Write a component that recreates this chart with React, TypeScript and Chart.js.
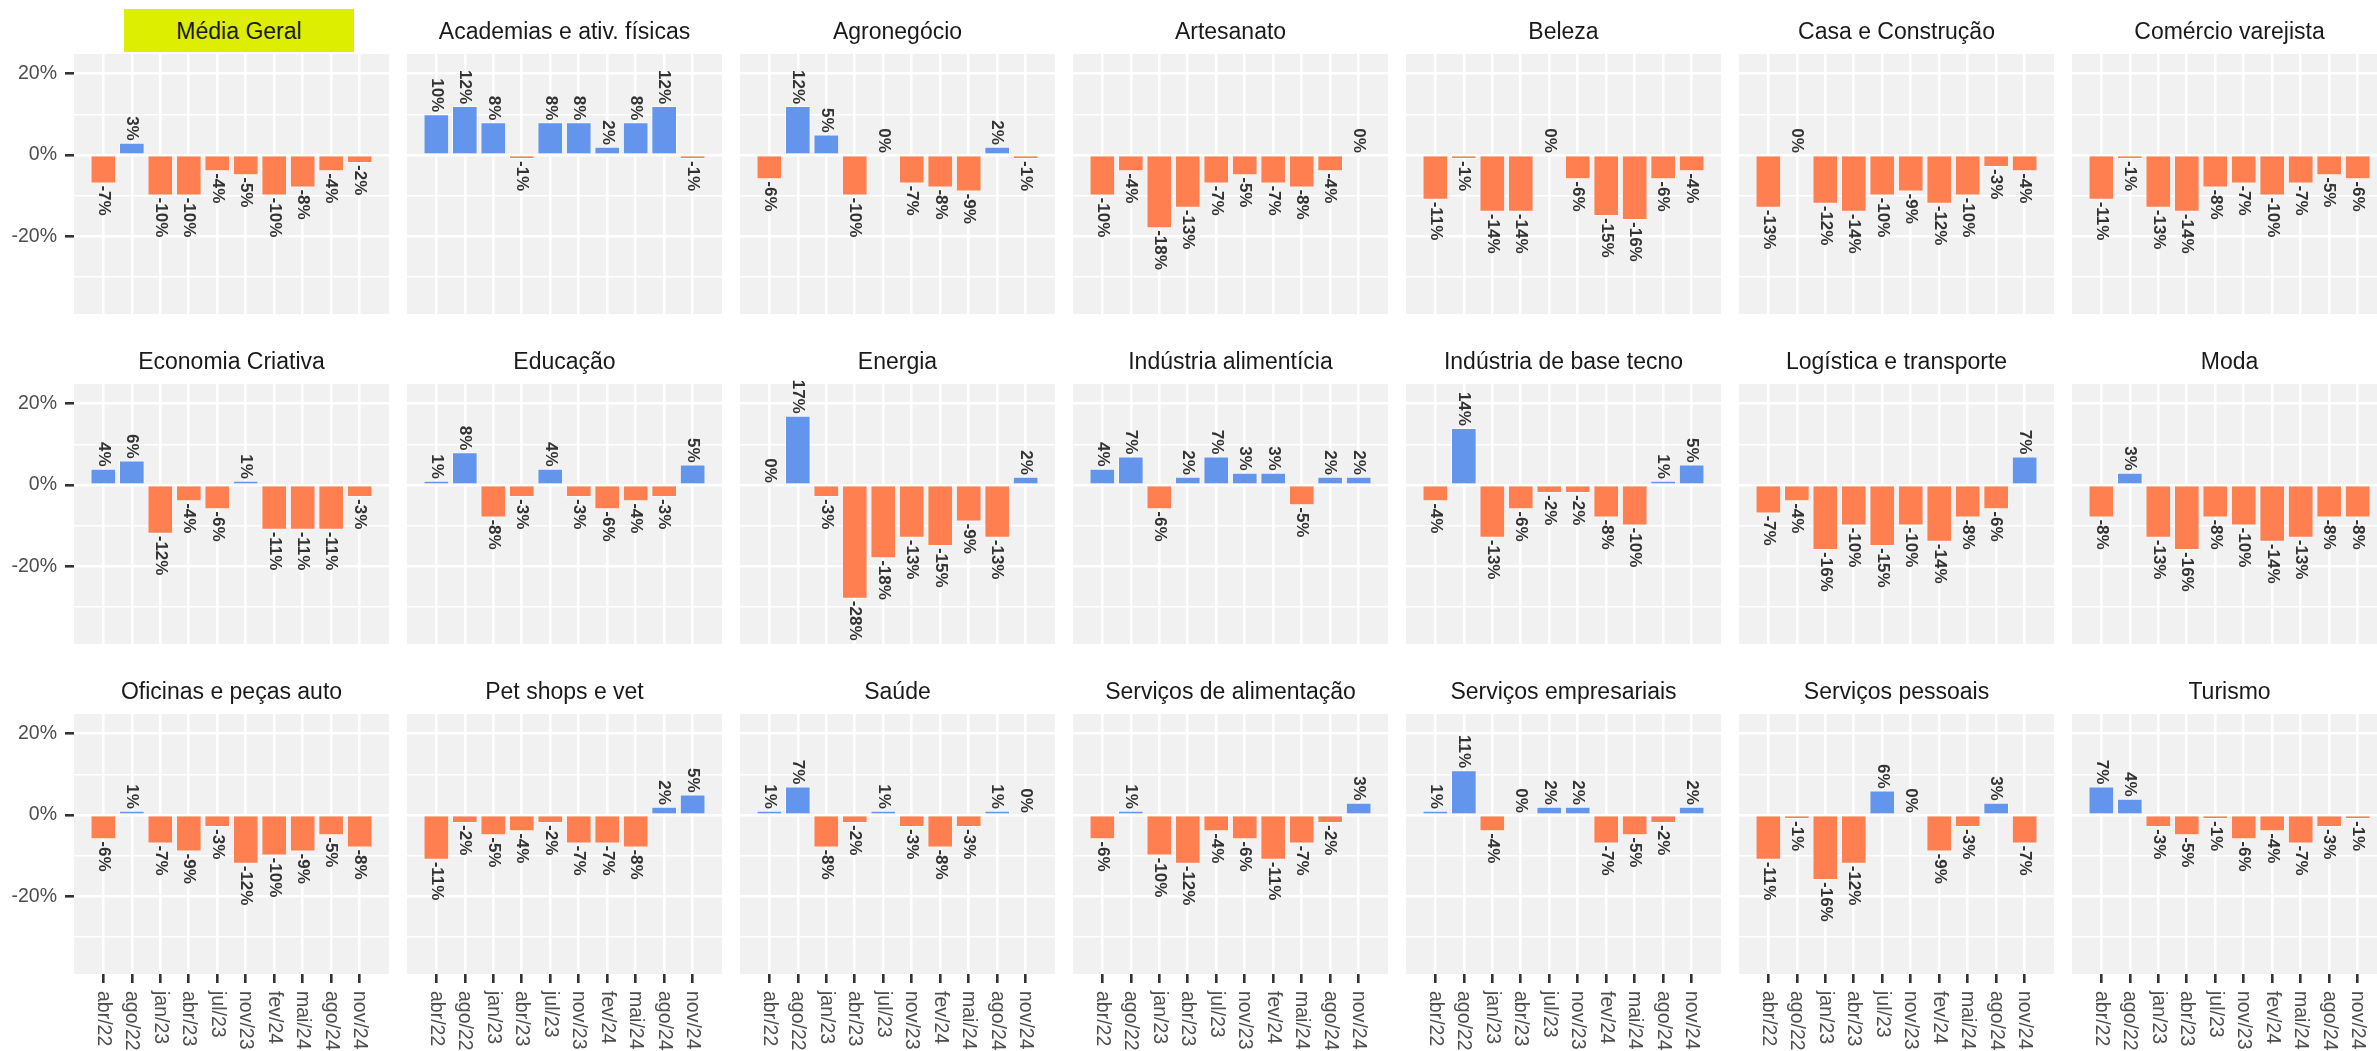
import React, { useEffect, useRef } from 'react';
import { Chart, registerables } from 'chart.js';

Chart.register(...registerables);

// ---------- data ----------
const periods = ['abr/22', 'ago/22', 'jan/23', 'abr/23', 'jul/23', 'nov/23', 'fev/24', 'mai/24', 'ago/24', 'nov/24'];

const mediaGeral = [-7, 3, -10, -10, -4, -5, -10, -8, -4, -2];
const academias = [10, 12, 8, -1, 8, 8, 2, 8, 12, -1];
const agronegocio = [-6, 12, 5, -10, 0, -7, -8, -9, 2, -1];
const artesanato = [-10, -4, -18, -13, -7, -5, -7, -8, -4, 0];
const beleza = [-11, -1, -14, -14, 0, -6, -15, -16, -6, -4];
const casaConstrucao = [-13, 0, -12, -14, -10, -9, -12, -10, -3, -4];
const comercioVarejista = [-11, -1, -13, -14, -8, -7, -10, -7, -5, -6];
const economiaCriativa = [4, 6, -12, -4, -6, 1, -11, -11, -11, -3];
const educacao = [1, 8, -8, -3, 4, -3, -6, -4, -3, 5];
const energia = [0, 17, -3, -28, -18, -13, -15, -9, -13, 2];
const industriaAlimenticia = [4, 7, -6, 2, 7, 3, 3, -5, 2, 2];
const industriaBaseTecno = [-4, 14, -13, -6, -2, -2, -8, -10, 1, 5];
const logisticaTransporte = [-7, -4, -16, -10, -15, -10, -14, -8, -6, 7];
const moda = [-8, 3, -13, -16, -8, -10, -14, -13, -8, -8];
const oficinasAuto = [-6, 1, -7, -9, -3, -12, -10, -9, -5, -8];
const petShops = [-11, -2, -5, -4, -2, -7, -7, -8, 2, 5];
const saude = [1, 7, -8, -2, 1, -3, -8, -3, 1, 0];
const servicosAlimentacao = [-6, 1, -10, -12, -4, -6, -11, -7, -2, 3];
const servicosEmpresariais = [1, 11, -4, 0, 2, 2, -7, -5, -2, 2];
const servicosPessoais = [-11, -1, -16, -12, 6, 0, -9, -3, 3, -7];
const turismo = [7, 4, -3, -5, -1, -6, -4, -7, -3, -1];

const sectorNames = [
  'Média Geral', 'Academias e ativ. físicas', 'Agronegócio', 'Artesanato', 'Beleza', 'Casa e Construção', 'Comércio varejista',
  'Economia Criativa', 'Educação', 'Energia', 'Indústria alimentícia', 'Indústria de base tecno', 'Logística e transporte', 'Moda',
  'Oficinas e peças auto', 'Pet shops e vet', 'Saúde', 'Serviços de alimentação', 'Serviços empresariais', 'Serviços pessoais', 'Turismo',
];
const sectorValues = [
  mediaGeral, academias, agronegocio, artesanato, beleza, casaConstrucao, comercioVarejista,
  economiaCriativa, educacao, energia, industriaAlimenticia, industriaBaseTecno, logisticaTransporte, moda,
  oficinasAuto, petShops, saude, servicosAlimentacao, servicosEmpresariais, servicosPessoais, turismo,
];

const yGridValues = [-30, -20, -10, 0, 10, 20];
const yLabelValues = [-20, 0, 20];

// ---------- layout / style ----------
const W = 2377;
const H = 1051;
const PLOT_LEFT0 = 74;
const COL_STRIDE = 333;
const PLOT_W = 315;
const PLOT_TOP0 = 54;
const ROW_STRIDE = 330;
const PLOT_H = 260;
const Y_AXIS_W = 74;
const X_AXIS_H = 77;
const TOP_PAD = 22;
const N_COLS = 7;

const FONT = '"Liberation Sans", Arial, Helvetica, sans-serif';
const BLUE = '#6495ED';
const CORAL = '#FF7F50';
const PANEL_BG = '#F1F1F1';
const HIGHLIGHT = '#DDEE00';

function Panel({ values, row, col }: { values: number[]; row: number; col: number }) {
  const ref = useRef<HTMLCanvasElement | null>(null);
  const firstCol = col === 0;
  const lastRow = row === 2;
  const left = firstCol ? 0 : PLOT_LEFT0 + col * COL_STRIDE;
  const top = PLOT_TOP0 + row * ROW_STRIDE - TOP_PAD;
  const width = (firstCol ? Y_AXIS_W : 0) + PLOT_W;
  const height = TOP_PAD + PLOT_H + (lastRow ? X_AXIS_H : 0);

  useEffect(() => {
    if (!ref.current) return;

    const bgPlugin = {
      id: 'panelBg',
      beforeDraw(chart: any) {
        const { ctx, chartArea } = chart;
        ctx.save();
        ctx.fillStyle = PANEL_BG;
        ctx.fillRect(chartArea.left, chartArea.top, chartArea.right - chartArea.left, chartArea.bottom - chartArea.top);
        ctx.restore();
      },
    };

    const valueLabels = {
      id: 'valueLabels',
      afterDatasetsDraw(chart: any) {
        const { ctx } = chart;
        const meta = chart.getDatasetMeta(0);
        ctx.save();
        ctx.font = `bold 17px ${FONT}`;
        ctx.fillStyle = '#333333';
        meta.data.forEach((bar: any, i: number) => {
          const v = values[i];
          ctx.save();
          ctx.translate(bar.x, v >= 0 ? bar.y - 2 : bar.y + 2);
          ctx.rotate(Math.PI / 2);
          ctx.textAlign = v >= 0 ? 'right' : 'left';
          ctx.textBaseline = 'middle';
          ctx.fillText(`${Math.round(v)}%`, 0, 0);
          ctx.restore();
        });
        ctx.restore();
      },
    };

    const xLabels = {
      id: 'xLabels',
      afterDraw(chart: any) {
        if (!lastRow) return;
        const { ctx } = chart;
        const xs = chart.scales.x;
        const y0 = chart.chartArea.bottom + 17;
        ctx.save();
        ctx.font = `19.5px ${FONT}`;
        ctx.fillStyle = '#4D4D4D';
        periods.forEach((p, i) => {
          const x = xs.getPixelForValue(i);
          ctx.save();
          ctx.translate(x, y0);
          ctx.rotate(Math.PI / 2);
          ctx.textAlign = 'left';
          ctx.textBaseline = 'middle';
          ctx.fillText(p, 0, 0);
          ctx.restore();
        });
        ctx.restore();
      },
    };

    const chart = new Chart(ref.current, {
      type: 'bar',
      data: {
        datasets: [
          {
            data: values.map((v, i) => ({ x: i, y: v })),
            backgroundColor: values.map((v) => (v >= 0 ? BLUE : CORAL)),
            borderColor: 'rgba(255,255,255,0.55)',
            borderWidth: values.map((v) => (v === 0 ? 0 : 1)),
            barPercentage: 0.9,
            categoryPercentage: 1,
          } as any,
        ],
      },
      options: {
        responsive: false,
        animation: false,
        events: [],
        layout: { padding: { top: TOP_PAD, left: 0, right: 0, bottom: 0 } },
        plugins: {
          legend: { display: false },
          tooltip: { enabled: false },
          title: { display: false },
        },
        scales: {
          x: {
            type: 'linear',
            min: -1.03,
            max: 10.03,
            offset: false,
            border: { display: false },
            grid: {
              offset: false,
              color: '#FFFFFF',
              lineWidth: 2.6,
              drawTicks: lastRow,
              tickColor: '#333333',
              tickWidth: 2.6,
              tickLength: 9,
            },
            ticks: { display: false },
            afterBuildTicks: (s: any) => {
              s.ticks = periods.map((_, i) => ({ value: i }));
            },
            afterFit: (s: any) => {
              s.height = lastRow ? X_AXIS_H : 0;
              s.paddingLeft = 0;
              s.paddingRight = 0;
            },
          } as any,
          y: {
            min: -39.1,
            max: 24.8,
            border: { display: false },
            grid: {
              color: '#FFFFFF',
              lineWidth: (ctx: any) => (ctx.tick && yLabelValues.includes(ctx.tick.value) ? 2.6 : 1.4),
              drawTicks: firstCol,
              tickColor: (ctx: any) => (ctx.tick && yLabelValues.includes(ctx.tick.value) ? '#333333' : 'rgba(0,0,0,0)'),
              tickWidth: 2.6,
              tickLength: 9,
            },
            ticks: {
              display: firstCol,
              padding: 8,
              color: '#4D4D4D',
              font: { family: FONT, size: 19.5 },
              callback: (v: any) => (yLabelValues.includes(Number(v)) ? `${v}%` : ''),
            },
            afterBuildTicks: (s: any) => {
              s.ticks = yGridValues.map((v) => ({ value: v }));
            },
            afterFit: (s: any) => {
              s.width = firstCol ? Y_AXIS_W : 0;
              s.paddingTop = 0;
              s.paddingBottom = 0;
            },
          } as any,
        },
      } as any,
      plugins: [bgPlugin, valueLabels, xLabels],
    });

    return () => chart.destroy();
  }, []);

  return (
    <canvas
      ref={ref}
      width={width}
      height={height}
      style={{ position: 'absolute', left, top, width, height }}
    />
  );
}

export default function App() {
  return (
    <div
      style={{
        position: 'absolute',
        left: 0,
        top: 0,
        width: W,
        height: H,
        overflow: 'hidden',
        background: '#FFFFFF',
      }}
    >
      {sectorValues.map((vals, idx) => {
        const row = Math.floor(idx / N_COLS);
        const col = idx % N_COLS;
        return <Panel key={`p${idx}`} values={vals} row={row} col={col} />;
      })}
      {sectorNames.map((name, idx) => {
        const row = Math.floor(idx / N_COLS);
        const col = idx % N_COLS;
        const plotTop = PLOT_TOP0 + row * ROW_STRIDE;
        const center = PLOT_LEFT0 + col * COL_STRIDE + PLOT_W / 2;
        const highlight = idx === 0;
        const boxLeft = highlight ? 124 : center - COL_STRIDE / 2;
        const boxWidth = highlight ? 230 : COL_STRIDE;
        return (
          <div
            key={`t${idx}`}
            style={{
              position: 'absolute',
              left: boxLeft,
              width: boxWidth,
              top: plotTop - 45,
              height: 43,
              lineHeight: '45px',
              textAlign: 'center',
              fontFamily: FONT,
              fontSize: 23,
              color: '#1A1A1A',
              whiteSpace: 'nowrap',
              background: highlight ? HIGHLIGHT : 'transparent',
            }}
          >
            {name}
          </div>
        );
      })}
    </div>
  );
}
